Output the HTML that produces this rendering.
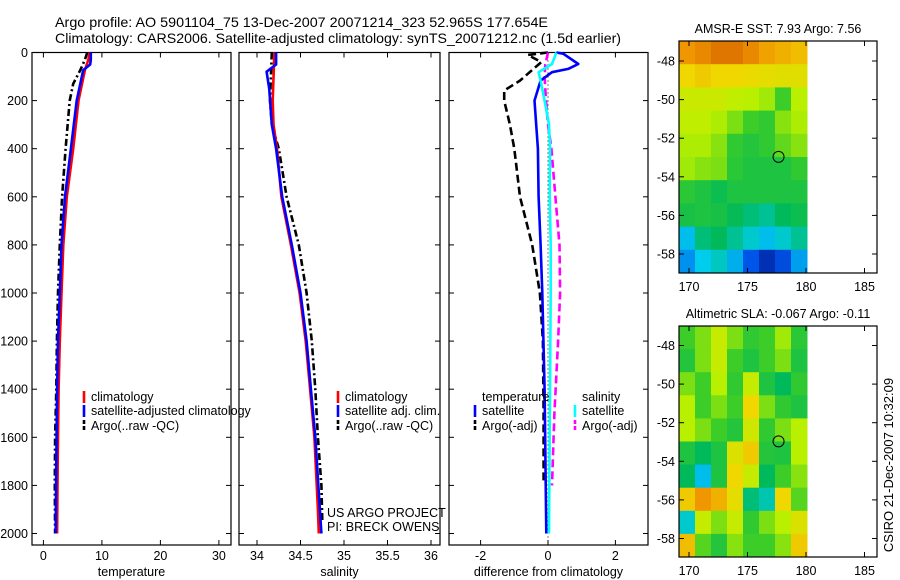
<!DOCTYPE html>
<html><head><meta charset="utf-8"><style>
html,body{margin:0;padding:0;background:#fff;}
svg{display:block;font-family:"Liberation Sans",sans-serif;}
</style></head><body>
<svg id="fig" width="900" height="580" viewBox="0 0 900 580" xmlns="http://www.w3.org/2000/svg">
<text x="55" y="27" font-size="14" textLength="493" lengthAdjust="spacingAndGlyphs">Argo profile: AO 5901104_75 13-Dec-2007 20071214_323 52.965S 177.654E</text>
<text x="55" y="43" font-size="14" textLength="566" lengthAdjust="spacingAndGlyphs">Climatology: CARS2006. Satellite-adjusted climatology: synTS_20071212.nc (1.5d earlier)</text>
<g id="plots"></g>
<text transform="translate(893,465) rotate(-90)" text-anchor="middle" font-size="13">CSIRO 21-Dec-2007 10:32:09</text>
</svg>
<script>
// ---- profile data (depth in m) ----
const tClimDepth = [0, 30, 73, 200, 400, 600, 800, 1000, 1200, 1400, 1700, 2000];
const tClimVals  = [7.9, 7.7, 7.1, 6.0, 5.1, 4.0, 3.4, 3.1, 2.8, 2.6, 2.45, 2.35];
const tSatDepth  = [0, 30, 50, 73, 200, 400, 600, 800, 1000, 1200, 1400, 1700, 2000];
const tSatVals   = [8.1, 8.1, 8.0, 6.8, 5.7, 4.7, 3.7, 3.1, 2.8, 2.5, 2.35, 2.2, 2.1];
const tArgoDepth = [0, 30, 73, 130, 200, 400, 600, 800, 1000, 1200, 1400, 1600, 1800, 2000];
const tArgoVals  = [7.5, 7.1, 6.3, 5.1, 4.5, 3.8, 3.2, 2.8, 2.5, 2.3, 2.2, 2.0, 1.95, 2.0];

const sClimDepth = [0, 200, 300, 400, 600, 800, 1000, 1200, 1400, 1600, 1900, 2000];
const sClimVals  = [34.20, 34.18, 34.19, 34.23, 34.28, 34.39, 34.49, 34.56, 34.61, 34.66, 34.70, 34.71];
const sSatDepth  = [0, 50, 80, 150, 300, 400, 600, 800, 1000, 1200, 1400, 1600, 2000];
const sSatVals   = [34.22, 34.22, 34.11, 34.14, 34.17, 34.22, 34.29, 34.40, 34.50, 34.57, 34.62, 34.67, 34.74];
const sArgoDepth = [0, 200, 300, 400, 600, 800, 1000, 1200, 1400, 1600, 1800, 1950];
const sArgoVals  = [34.17, 34.15, 34.17, 34.25, 34.34, 34.48, 34.57, 34.63, 34.67, 34.70, 34.74, 34.75];

const dTSatDepth  = [0, 5, 48, 68, 82, 117, 200, 400, 600, 800, 1000, 1400, 2000];
const dTSatVals   = [0.25, 0.45, 0.9, 0.6, 0.12, -0.22, -0.4, -0.3, -0.28, -0.22, -0.17, -0.1, -0.05];
const dTArgoDepth = [0, 10, 40, 117, 158, 200, 300, 400, 600, 800, 1000, 1200, 1500, 1780];
const dTArgoVals  = [0, -0.6, -0.2, -0.83, -1.3, -1.3, -1.13, -1.0, -0.83, -0.47, -0.24, -0.15, -0.13, -0.13];
const dSSatDepth  = [0, 48, 82, 117, 200, 300, 400, 600, 800, 1000, 1400, 2000];
const dSSatVals   = [0.25, 0.12, -0.28, -0.22, -0.1, 0.03, 0.06, 0.05, 0.08, 0.08, 0.06, 0.03];
const dSArgoDepth = [0, 50, 100, 200, 300, 400, 600, 800, 1000, 1200, 1500, 1800];
const dSArgoVals  = [0, -0.08, -0.1, -0.06, 0, 0.1, 0.22, 0.34, 0.36, 0.3, 0.19, 0.12];

const depthTicks = [0, 200, 400, 600, 800, 1000, 1200, 1400, 1600, 1800, 2000];
const tTicks = [0, 10, 20, 30];
const sTicks = [34, 34.5, 35, 35.5, 36];
const sTickLabels = ["34", "34.5", "35", "35.5", "36"];
const dTicks = [-2, 0, 2];

// ---- map grids (normalized colour values, rows north->south) ----
const sstGrid = [
 [0.80,0.82,0.85,0.85,0.82,0.78,0.76,0.74],
 [0.70,0.72,0.70,0.70,0.69,0.68,0.67,0.67],
 [0.63,0.63,0.63,0.61,0.60,0.58,0.50,0.60],
 [0.61,0.61,0.59,0.55,0.50,0.48,0.56,0.59],
 [0.59,0.59,0.56,0.48,0.46,0.48,0.53,0.56],
 [0.58,0.56,0.55,0.47,0.45,0.45,0.45,0.48],
 [0.47,0.45,0.42,0.45,0.45,0.45,0.45,0.45],
 [0.44,0.45,0.44,0.41,0.38,0.36,0.40,0.42],
 [0.28,0.38,0.40,0.36,0.32,0.28,0.32,0.36],
 [0.22,0.30,0.33,0.26,0.14,0.06,0.12,0.24]];
const slaGrid = [
 [0.50,0.55,0.62,0.55,0.48,0.50,0.58,0.47],
 [0.46,0.55,0.62,0.50,0.45,0.50,0.55,0.45],
 [0.55,0.50,0.60,0.48,0.62,0.45,0.40,0.48],
 [0.60,0.50,0.55,0.50,0.70,0.55,0.48,0.45],
 [0.60,0.55,0.50,0.46,0.64,0.48,0.55,0.60],
 [0.45,0.40,0.45,0.66,0.72,0.46,0.45,0.60],
 [0.40,0.28,0.45,0.70,0.62,0.40,0.50,0.56],
 [0.72,0.80,0.76,0.68,0.38,0.34,0.70,0.52],
 [0.32,0.62,0.55,0.62,0.48,0.55,0.60,0.66],
 [0.74,0.52,0.46,0.56,0.50,0.50,0.56,0.72]];
const lonTicks = [170, 175, 180, 185];
const latTicks = [-48, -50, -52, -54, -56, -58];
const argoLon = 177.654, argoLat = -52.965;

const NS = "http://www.w3.org/2000/svg";
const root = document.getElementById("plots");
function mk(tag, attrs, parent) {
  const e = document.createElementNS(NS, tag);
  for (const k in attrs) e.setAttribute(k, attrs[k]);
  (parent || root).appendChild(e);
  return e;
}
const pTop = 52.5, pBot = 545;
const yD = d => pTop + d * 0.2405;

function panel(name, x0, x1, xScale, ticks, labels, xlabel, showY) {
  const g = mk("g", {});
  
  
  const fr = mk("rect", {x: x0, y: pTop, width: x1 - x0, height: pBot - pTop, fill: "none", stroke: "#000", "stroke-width": 1.2}, g);
  
  
  depthTicks.forEach(d => {
    const y = yD(d);
    mk("line", {x1: x0, x2: x0 + 5, y1: y, y2: y, stroke: "#000"}, g);
    mk("line", {x1: x1, x2: x1 - 5, y1: y, y2: y, stroke: "#000"}, g);
    if (showY) {
      const t = mk("text", {x: 28, y: y + 4.5, "font-size": 12.5, "text-anchor": "end"}, g);
      t.textContent = d;
      
      
    }
  });
  ticks.forEach((v, i) => {
    const x = xScale(v);
    mk("line", {x1: x, x2: x, y1: pBot, y2: pBot - 5, stroke: "#000"}, g);
    mk("line", {x1: x, x2: x, y1: pTop, y2: pTop + 5, stroke: "#000"}, g);
    const t = mk("text", {x: x, y: 560, "font-size": 12.5, "text-anchor": "middle"}, g);
    t.textContent = labels[i];
    
    
  });
  const xl = mk("text", {x: (x0 + x1) / 2, y: 576, "font-size": 12.5, "text-anchor": "middle"}, g);
  xl.textContent = xlabel;
  
  
  return g;
}
function series(g, name, depths, vals, xScale, color, dash, w) {
  const d = depths.map((dd, i) => (i ? "L" : "M") + xScale(vals[i]).toFixed(1) + "," + yD(dd).toFixed(1)).join(" ");
  const p = mk("path", {d: d, fill: "none", stroke: color, "stroke-width": w || 2.6, "stroke-dasharray": dash || "none", "stroke-linejoin": "round"}, g);
  
  
}
function legend(g, x, y, color, dash, label, name) {
  const l = mk("line", {x1: x, x2: x, y1: y - 10, y2: y + 2, stroke: color, "stroke-width": 2.6, "stroke-dasharray": dash || "none"}, g);
  
  
  const t = mk("text", {x: x + 7, y: y, "font-size": 12.5}, g);
  t.textContent = label;
  
  
}
function txt(g, x, y, s, name, anchor) {
  const t = mk("text", {x: x, y: y, "font-size": 12.5, "text-anchor": anchor || "start"}, g);
  t.textContent = s;
  
  
}

// Temperature panel
const xT = v => 43.4 + 5.85 * v;
const g1 = panel("temperature-panel", 32, 231, xT, tTicks, tTicks.map(String), "temperature", true);
series(g1, "temp-argo-line", tArgoDepth, tArgoVals, xT, "#000", "7,3,2,3");
series(g1, "temp-climatology-line", tClimDepth, tClimVals, xT, "#f00", "none");
series(g1, "temp-satellite-line", tSatDepth, tSatVals, xT, "#00f", "none");
legend(g1, 84, 401, "#f00", null, "climatology", "legend-climatology");
legend(g1, 84, 415, "#00f", null, "satellite-adjusted climatology", "legend-satellite-adjusted");
legend(g1, 84, 430, "#000", "4,2", "Argo(..raw -QC)", "legend-argo");

// Salinity panel
const xS = v => 257 + 87 * (v - 34);
const g2 = panel("salinity-panel", 239, 440, xS, sTicks, sTickLabels, "salinity", false);
series(g2, "sal-argo-line", sArgoDepth, sArgoVals, xS, "#000", "7,3,2,3");
series(g2, "sal-climatology-line", sClimDepth, sClimVals, xS, "#f00", "none");
series(g2, "sal-satellite-line", sSatDepth, sSatVals, xS, "#00f", "none");
legend(g2, 338, 401, "#f00", null, "climatology", "legend-climatology");
legend(g2, 338, 415, "#00f", null, "satellite adj. clim.", "legend-satellite");
legend(g2, 338, 430, "#000", "4,2", "Argo(..raw -QC)", "legend-argo");
txt(g2, 327, 517, "US ARGO PROJECT", "project-label");
txt(g2, 327, 531, "PI: BRECK OWENS", "pi-label");

// Difference panel
const xDf = v => 548 + 33.7 * v;
const g3 = panel("difference-panel", 449, 648, xDf, dTicks, dTicks.map(String), "difference from climatology", false);
mk("line", {x1: xDf(0), x2: xDf(0), y1: pTop, y2: pBot, stroke: "#000", "stroke-width": 1, "stroke-dasharray": "1,3"}, g3);
series(g3, "diff-temp-argo-line", dTArgoDepth, dTArgoVals, xDf, "#000", "8,4");
series(g3, "diff-sal-argo-line", dSArgoDepth, dSArgoVals, xDf, "#f0f", "8,4");
series(g3, "diff-temp-satellite-line", dTSatDepth, dTSatVals, xDf, "#00f", "none");
series(g3, "diff-sal-satellite-line", dSSatDepth, dSSatVals, xDf, "#0ff", "none");
txt(g3, 482, 401, "temperature", "legend-temperature-header");
txt(g3, 582, 401, "salinity", "legend-salinity-header");
legend(g3, 475, 415, "#00f", null, "satellite", "legend-temp-satellite");
legend(g3, 475, 430, "#000", "4,2", "Argo(-adj)", "legend-temp-argo");
legend(g3, 575, 415, "#0ff", null, "satellite", "legend-sal-satellite");
legend(g3, 575, 430, "#f0f", "4,2", "Argo(-adj)", "legend-sal-argo");

// ---- maps ----
const stops = [[0,[0,20,140]],[0.15,[0,90,240]],[0.3,[0,205,235]],[0.4,[0,185,90]],[0.5,[60,205,40]],[0.6,[185,240,0]],[0.7,[240,215,0]],[0.8,[240,150,0]],[0.9,[205,85,0]],[1,[160,30,0]]];
function cmap(v) {
  for (let i = 1; i < stops.length; i++) {
    if (v <= stops[i][0]) {
      const a = stops[i-1], b = stops[i], f = (v - a[0]) / (b[0] - a[0]);
      const c = a[1].map((x, k) => Math.round(x + f * (b[1][k] - x)));
      return "rgb(" + c.join(",") + ")";
    }
  }
  return "rgb(160,30,0)";
}
function mapPanel(name, title, grid, y0, y1, latTop) {
  const x0 = 679, x1 = 877, dataR = 807;
  const lonX = l => 689 + 11.7 * (l - 170);
  const latY = l => latTop + 19.3 * (-48 - l);
  const g = mk("g", {});
  
  
  const tt = mk("text", {x: 778, y: y0 - 8, "font-size": 12.5, "text-anchor": "middle"}, g);
  tt.textContent = title;
  
  
  const rows = grid.length, cols = grid[0].length;
  const cw = (dataR - x0) / cols, ch = (y1 - y0) / rows;
  grid.forEach((row, r) => row.forEach((v, c) => {
    const cell = mk("rect", {x: x0 + c * cw, y: y0 + r * ch, width: cw + 0.5, height: ch + 0.5, fill: cmap(v)}, g);
    
    
  }));
  const fr = mk("rect", {x: x0, y: y0, width: x1 - x0, height: y1 - y0, fill: "none", stroke: "#000", "stroke-width": 1.2}, g);
  
  
  lonTicks.forEach(l => {
    const x = lonX(l);
    mk("line", {x1: x, x2: x, y1: y1, y2: y1 - 5, stroke: "#000"}, g);
    mk("line", {x1: x, x2: x, y1: y0, y2: y0 + 5, stroke: "#000"}, g);
    const t = mk("text", {x: x, y: y1 + 18, "font-size": 12.5, "text-anchor": "middle"}, g);
    t.textContent = l;
    
    
  });
  latTicks.forEach(l => {
    const y = latY(l);
    mk("line", {x1: x0, x2: x0 + 5, y1: y, y2: y, stroke: "#000"}, g);
    mk("line", {x1: x1, x2: x1 - 5, y1: y, y2: y, stroke: "#000"}, g);
    const t = mk("text", {x: 675, y: y + 4.5, "font-size": 12.5, "text-anchor": "end"}, g);
    t.textContent = l;
    
    
  });
  const c = mk("circle", {cx: lonX(argoLon), cy: latY(argoLat), r: 5.5, fill: "none", stroke: "#000", "stroke-width": 1}, g);
  
  
}
mapPanel("sst-map", "AMSR-E SST: 7.93 Argo: 7.56", sstGrid, 41, 273, 61);
mapPanel("sla-map", "Altimetric SLA: -0.067 Argo: -0.11", slaGrid, 326, 557, 345.5);
</script>
</body></html>
